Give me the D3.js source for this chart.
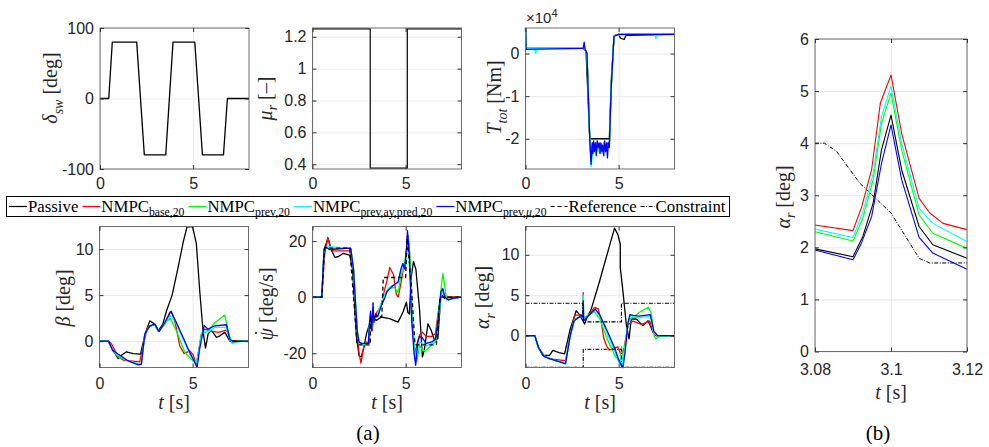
<!DOCTYPE html>
<html><head><meta charset="utf-8">
<script src="https://cdn.jsdelivr.net/npm/d3@7"></script>
<style>
body{margin:0;background:#fff;}
svg{display:block;}
</style></head><body>
<svg id="c" width="989" height="447"></svg>
<script>
// ---------------- DATA (t [s], value) ----------------
const steerDeg = [[0,0],[0.47,0],[0.66,80],[1.97,80],[2.38,-80],[3.53,-80],[3.92,80],[5.09,80],[5.5,-80],[6.63,-80],[6.84,0],[8,0]];
const muRoad = [[0,1.25],[3.1,1.25],[3.1,0.375],[5.09,0.375],[5.09,1.25],[8,1.25]];

// T_tot in units of 1e4 Nm
const torquePassive = [[0,0.6],[0.03,0.12],[3.15,0.12],[3.25,0.05],[3.45,-2.0],[4.5,-2.0],[4.62,-0.5],[4.76,0.42],[5.0,0.45],[5.1,0.36],[5.3,0.33],[5.4,0.43],[8,0.45]];
const torqueBase = [[0,0.6],[0.03,0.12],[3.1,0.12],[3.2,0.08],[3.3,0.0],[3.45,-2.0],[3.52,-2.5],[3.6,-2.1],[3.7,-2.25],[3.8,-2.1],[3.9,-2.2],[4.0,-2.1],[4.1,-2.25],[4.2,-2.1],[4.3,-2.2],[4.4,-2.1],[4.5,-2.2],[4.6,-0.8],[4.75,0.42],[5.0,0.45],[8,0.45]];
const torquePrev = [[0,0.6],[0.03,0.12],[3.1,0.12],[3.2,0.1],[3.3,0.0],[3.45,-2.0],[3.53,-2.6],[3.6,-2.15],[3.7,-2.3],[3.8,-2.1],[3.9,-2.25],[4.0,-2.15],[4.1,-2.3],[4.2,-2.1],[4.3,-2.25],[4.4,-2.15],[4.5,-2.2],[4.6,-0.8],[4.75,0.42],[5.0,0.45],[8,0.45]];
const torqueAy = [[0,0.6],[0.03,0.12],[0.5,0.12],[0.55,0.0],[0.6,0.12],[3.1,0.12],[3.15,0.2],[3.2,0.1],[3.3,0.0],[3.45,-2.0],[3.53,-2.65],[3.6,-2.2],[3.7,-2.3],[3.8,-2.1],[3.9,-2.3],[4.0,-2.2],[4.1,-2.35],[4.2,-2.15],[4.3,-2.3],[4.4,-2.2],[4.5,-2.2],[4.6,-0.8],[4.75,0.42],[5.5,0.45],[6.95,0.45],[7.0,0.35],[7.05,0.45],[8,0.45]];
const torqueMu = [[0,0.6],[0.03,0.1],[3.1,0.12],[3.15,0.27],[3.2,0.1],[3.3,0.0],[3.45,-2.0],[3.52,-2.6],[3.58,-2.1],[3.62,-2.35],[3.66,-2.05],[3.7,-2.3],[3.75,-2.1],[3.8,-2.4],[3.85,-2.05],[3.9,-2.2],[3.95,-2.1],[4.0,-2.35],[4.05,-2.1],[4.1,-2.3],[4.15,-2.15],[4.2,-2.4],[4.25,-2.05],[4.3,-2.3],[4.35,-2.1],[4.4,-2.45],[4.45,-2.1],[4.5,-2.2],[4.6,-0.8],[4.75,0.4],[5.0,0.45],[8,0.45]];

const betaPassive = [[0,0],[0.46,0],[0.7,-0.9],[1.0,-1.9],[1.2,-1.5],[1.45,-1.15],[1.8,-1.35],[2.2,-1.4],[2.45,0.8],[2.7,2.2],[2.97,1.85],[3.15,1.1],[3.4,1.85],[3.6,3.3],[3.9,5.0],[4.22,8.0],[4.5,10.8],[4.7,12.4],[5.0,12.4],[5.2,10.6],[5.38,5.5],[5.56,1.1],[5.69,-0.76],[5.83,0.76],[6.0,1.2],[6.28,0.4],[6.46,0.58],[6.73,0.95],[7.0,0],[7.26,0.05],[8,0]];
const betaBase = [[0,0],[0.5,0],[0.65,-0.3],[1.0,-1.7],[1.27,-2.05],[2.16,-2.25],[2.4,0],[2.58,1.5],[2.97,1.85],[3.18,1.05],[3.5,1.85],[3.77,3.1],[3.86,3.25],[4.08,1.85],[4.31,-0.5],[4.54,-1.35],[4.85,-1.05],[5.03,-1.5],[5.2,-2.5],[5.47,0.76],[5.65,1.3],[6.0,1.1],[6.37,0.95],[6.82,1.2],[7.05,0],[8,0]];
const betaPrev = [[0,0],[0.5,0],[0.7,-1.0],[1.0,-1.7],[1.5,-2.1],[2.1,-2.5],[2.25,-2.45],[2.43,0.7],[2.7,1.6],[2.97,1.8],[3.2,1.05],[3.5,1.9],[3.8,2.5],[4.13,1.1],[4.58,-1.24],[5.03,-2.15],[5.24,-2.3],[5.47,0.76],[5.83,1.1],[6.19,2.0],[6.73,2.85],[6.94,0.8],[7.12,-0.25],[7.4,0],[8,0]];
const betaAy = [[0,0],[0.5,0],[0.7,-1.0],[1.0,-1.5],[1.5,-2.1],[2.08,-2.5],[2.25,-2.45],[2.43,0.75],[2.7,1.65],[2.97,1.85],[3.2,1.05],[3.5,1.95],[3.8,2.8],[4.04,2.3],[4.49,0.2],[4.85,-1.4],[5.15,-2.4],[5.3,-1.5],[5.5,0.9],[5.62,1.15],[5.83,1.0],[6.19,1.5],[6.8,1.5],[7.0,0.1],[7.17,-0.1],[8,0]];
const betaMu = [[0,0],[0.5,0],[0.7,-1.0],[1.0,-1.4],[1.54,-2.15],[2.08,-2.58],[2.25,-2.5],[2.43,0.76],[2.7,1.67],[2.97,1.85],[3.2,1.05],[3.5,2.0],[3.83,3.24],[4.04,2.4],[4.49,0.4],[4.85,-1.24],[5.12,-2.33],[5.24,-2.87],[5.38,-0.8],[5.62,1.7],[5.83,1.3],[6.19,1.67],[6.82,1.78],[7.0,0.2],[7.17,-0.05],[8,0]];

const yawPassive = [[0,0],[0.5,0],[0.62,17],[0.84,21],[1.0,17],[1.2,14.2],[1.4,14.5],[1.64,15.6],[2.0,15],[2.15,10],[2.36,-14.2],[2.5,-21],[2.62,-21.3],[2.75,-18],[2.9,-13],[3.07,-9.5],[3.15,-11],[3.25,-7.5],[3.43,-8.3],[3.7,-7.1],[4.14,-7.7],[4.59,-8.9],[4.7,-7.5],[4.86,-5.3],[5.04,-1.8],[5.12,-5.5],[5.2,-6],[5.3,7.1],[5.42,12.7],[5.55,10],[5.75,-4.7],[5.9,-21.3],[6.0,-19],[6.2,-9.5],[6.37,-11.8],[6.55,-15.4],[6.73,-14.8],[6.9,1.2],[7.1,-0.5],[7.4,0],[8,0]];
const yawBase = [[0,0],[0.5,0],[0.65,15],[0.82,21.3],[0.95,18],[1.1,16.5],[2.0,16.5],[2.2,10],[2.35,-10],[2.5,-20],[2.6,-23.5],[2.75,-18],[2.9,-16],[3.05,-16.5],[3.1,-8],[3.2,-12],[3.3,-7],[3.5,-5],[3.7,-3],[3.85,2],[4.0,6],[4.15,10.6],[4.35,8],[4.5,1],[4.6,0],[4.75,5],[4.9,11],[5.0,12],[5.1,22],[5.2,18],[5.35,-10],[5.5,-20],[5.6,-17],[5.75,-13.5],[5.9,-12.5],[6.1,-14],[6.4,-14],[6.6,-13],[6.8,-3],[6.95,3],[7.1,0.5],[7.4,0],[8,0]];
const yawPrev = [[0,0],[0.5,0],[0.62,17],[0.75,17.5],[2.05,17.5],[2.2,10],[2.4,-12],[2.5,-16],[2.6,-16.5],[3.0,-16.5],[3.05,-10],[3.12,-6],[3.2,-11],[3.3,-7],[3.5,-6],[3.7,-2],[3.9,1],[4.1,3],[4.4,3.5],[4.6,1.5],[4.75,8],[4.9,10],[5.05,17],[5.15,22],[5.25,12],[5.35,-5],[5.5,-21],[5.6,-23],[5.75,-17],[5.9,-19],[6.1,-19],[6.4,-17],[6.6,-16],[6.8,-3],[7.0,8.5],[7.1,4],[7.2,-1],[7.5,-0.5],[8,0]];
const yawAy = [[0,0],[0.5,0],[0.62,17],[0.75,18],[2.05,17.5],[2.2,10],[2.4,-12],[2.5,-16],[2.6,-17],[3.0,-16.5],[3.05,-10],[3.12,-6],[3.2,-11],[3.3,-7],[3.5,-6],[3.7,-2],[3.9,1],[4.1,3.5],[4.4,4.5],[4.6,5],[4.75,10],[4.9,12],[5.0,11],[5.1,20],[5.2,14],[5.35,-8],[5.5,-21],[5.6,-20],[5.75,-16],[5.9,-16.5],[6.1,-17.5],[6.4,-16.5],[6.6,-15.5],[6.8,-6],[6.95,2.5],[7.1,0],[7.3,-1],[8,0]];
const yawMu = [[0,0],[0.5,0],[0.62,17],[0.7,18],[0.9,17],[2.05,17.5],[2.2,10],[2.4,-12],[2.5,-16],[2.6,-16.5],[3.0,-16.5],[3.05,-10],[3.12,-5],[3.18,-12],[3.25,-2],[3.3,-9],[3.4,-6],[3.5,-7],[3.7,-3],[3.9,0],[4.0,2],[4.3,4],[4.6,5.5],[4.75,10],[4.85,12],[4.95,10],[5.05,18],[5.1,23.7],[5.2,15],[5.3,-5],[5.45,-20],[5.54,-24.3],[5.65,-16],[5.75,-14],[5.9,-14.5],[6.1,-16.5],[6.4,-16],[6.6,-15],[6.75,-8],[6.9,2],[7.0,3],[7.1,0],[7.3,-1],[7.6,-0.3],[8,0]];
const yawRef = [[0,0],[0.5,0],[0.65,17.5],[2.0,17.5],[2.4,-17],[3.1,-17],[3.12,-7],[3.72,-7],[3.8,7],[5.0,7],[5.08,21],[5.3,5],[5.5,-17],[6.65,-17],[6.85,0],[8,0]];

const slipPassive = [[0,0],[0.5,0],[0.7,-1.5],[0.93,-2.46],[1.29,-2.46],[1.47,-1.84],[1.8,-2.1],[2.1,-2.25],[2.4,0.8],[2.72,3.07],[2.9,2.6],[3.08,1.84],[3.17,1.43],[3.3,2.2],[3.53,3.28],[3.98,6.76],[4.43,10.45],[4.78,13.3],[4.96,12.5],[5.09,11.3],[5.09,8.4],[5.23,5.5],[5.41,1.43],[5.56,-0.4],[5.68,2.05],[5.95,2.05],[6.3,1.23],[6.58,1.84],[6.85,0.4],[7.0,0],[8,0]];
const slipBase = [[0,0],[0.5,0],[0.7,-1.5],[1.0,-2.5],[1.3,-2.9],[2.15,-3.1],[2.4,0],[2.65,2.5],[3.0,2.6],[3.08,2.4],[3.1,5.3],[3.12,2.3],[3.2,2.0],[3.5,2.8],[3.7,3.5],[3.9,3.3],[4.05,2.0],[4.2,-0.3],[4.34,-1.2],[4.5,-1.8],[4.7,-1.6],[4.96,-1.4],[5.14,-2.5],[5.3,-1.5],[5.5,1.3],[5.77,1.8],[6.22,1.4],[6.67,1.8],[6.85,0.4],[7.02,0],[8,0]];
const slipPrev = [[0,0],[0.5,0],[0.7,-1.5],[1.0,-2.5],[1.5,-3.0],[2.15,-3.4],[2.4,0],[2.65,2.0],[3.0,2.5],[3.08,2.3],[3.1,4.9],[3.12,2.2],[3.3,2.4],[3.7,3.0],[4.0,2.0],[4.4,-0.5],[4.8,-2.5],[5.0,-3.0],[5.1,-3.3],[5.16,-1.35],[5.17,-2.4],[5.22,-3.5],[5.35,-1],[5.55,2.0],[5.8,2.3],[6.2,3.0],[6.6,3.5],[6.75,2.8],[6.9,0],[7.0,-0.4],[7.2,-0.1],[8,0]];
const slipAy = [[0,0],[0.5,0],[0.7,-1.5],[1.0,-2.6],[1.5,-3.0],[2.15,-3.4],[2.4,0],[2.6,1.9],[3.0,2.5],[3.08,2.3],[3.1,5.0],[3.12,2.0],[3.3,2.3],[3.75,3.2],[4.0,2.4],[4.4,0.2],[4.8,-2.0],[5.0,-3.2],[5.1,-3.6],[5.15,-2.2],[5.2,-3.7],[5.35,-1.5],[5.5,1.5],[5.65,2.6],[5.8,2.3],[6.1,2.2],[6.7,2.4],[6.9,0.3],[7.1,0],[8,0]];
const slipMu = [[0,0],[0.5,0],[0.7,-1.5],[1.0,-2.6],[1.5,-3.0],[2.15,-3.5],[2.4,0],[2.6,1.8],[3.0,2.5],[3.08,2.3],[3.1,4.3],[3.12,1.8],[3.3,2.3],[3.75,3.3],[4.0,2.5],[4.4,0.5],[4.8,-1.6],[5.0,-3.0],[5.15,-3.7],[5.23,-4.0],[5.35,-2.0],[5.5,1.5],[5.6,2.6],[5.8,2.5],[6.1,2.4],[6.7,2.6],[6.9,0.5],[7.1,0],[8,0]];
const slipUpper = [[0,4],[3.08,4],[3.085,3.9],[3.107,1.78],[3.11,1.7],[5.15,1.7],[5.15,4],[8,4]];
const slipLower = [[0,-3.93],[3.1,-3.93],[3.1,-1.7],[5.15,-1.7],[5.15,-3.93],[8,-3.93]];

// zoom (b): t in [3.08, 3.12]
const zPassive = [[3.08,1.97],[3.09,1.82],[3.0926,2.21],[3.0953,2.85],[3.0975,3.87],[3.1,4.54],[3.1028,3.49],[3.1074,2.4],[3.111,2.05],[3.12,1.79]];
const zBase = [[3.08,2.43],[3.09,2.32],[3.0923,2.78],[3.0949,3.49],[3.0972,4.77],[3.1,5.31],[3.1028,4.19],[3.1074,2.94],[3.1102,2.66],[3.1137,2.46],[3.12,2.34]];
const zPrev = [[3.08,2.3],[3.09,2.12],[3.0926,2.56],[3.0953,3.3],[3.0975,4.38],[3.1,4.96],[3.1028,3.87],[3.1074,2.62],[3.111,2.27],[3.12,1.98]];
const zAy = [[3.08,2.35],[3.09,2.19],[3.0925,2.66],[3.0953,3.42],[3.0975,4.51],[3.1,5.1],[3.1028,4.0],[3.1074,2.75],[3.111,2.46],[3.12,2.11]];
const zMu = [[3.08,1.95],[3.09,1.76],[3.0922,2.08],[3.0949,2.59],[3.0975,3.61],[3.1,4.35],[3.1028,3.3],[3.1074,2.19],[3.111,1.89],[3.12,1.58]];
const zConstraint = [[3.08,4.0],[3.0825,4.0],[3.0857,3.84],[3.0918,3.23],[3.1,2.66],[3.1074,1.79],[3.1102,1.7],[3.12,1.7]];

const timeTicks = [0,5];
const zoomTimeTicks = [3.08,3.1,3.12];
const legendNames = ["Passive","NMPC|base,20","NMPC|prev,20","NMPC|prev,ay,pred,20","NMPC|prev,~μ~,20","Reference","Constraint"];

// ---------------- STYLE ----------------
const C = {p:'#000000', b:'#ff0000', g:'#00ff00', a:'#00ffff', m:'#0000ff'};
const DASH_REF = '4,3', DASH_CON = '4,1.5,1,1.5';
const SANS = '"Liberation Sans", Arial, Helvetica, sans-serif';
const SERIF = '"Liberation Serif", "Times New Roman", serif';
const svg = d3.select('#c');

function richText(sel, segs, size){
  let shifted = 0;
  segs.forEach(([t, m]) => {
    if (m === 'dot') {
      // overdot placed above previous glyph
      sel.append('tspan').text('\u02D9').attr('dx', -size*0.40).attr('dy', -size*0.18 - shifted);
      shifted = -size*0.18;
      return;
    }
    const ts = sel.append('tspan').text(t);
    const isSub = m === 'sub' || m === 'subi';
    const target = isSub ? size*0.28 : 0;
    if (target !== shifted) { ts.attr('dy', target - shifted); shifted = target; }
    if (isSub) ts.attr('font-size', size*0.7);
    if (m === 'i' || m === 'subi') ts.attr('font-style', 'italic');
    if (m === 'afterdot') ts.attr('dx', size*0.08);
  });
}

let clipN = 0;
function panel(o){
  const x = d3.scaleLinear().domain(o.xd).range([o.l, o.r]);
  const y = d3.scaleLinear().domain(o.yd).range([o.b, o.t]);
  const W = o.r - o.l, H = o.b - o.t;
  const g = svg.append('g');
  g.append('g').attr('transform', `translate(0,${o.b})`)
    .call(d3.axisBottom(x).tickValues(o.xt).tickSize(-H).tickFormat(''))
    .call(s => { s.select('.domain').remove(); s.selectAll('line').attr('stroke', '#e9e9e9'); });
  g.append('g').attr('transform', `translate(${o.l},0)`)
    .call(d3.axisLeft(y).tickValues(o.yt).tickSize(-W).tickFormat(''))
    .call(s => { s.select('.domain').remove(); s.selectAll('line').attr('stroke', '#e9e9e9'); });
  const id = 'clip' + (clipN++);
  svg.append('clipPath').attr('id', id).append('rect')
    .attr('x', o.l - 1).attr('y', o.t - 1).attr('width', W + 2).attr('height', H + 2);
  const lg = g.append('g').attr('clip-path', `url(#${id})`);
  const ln = d3.line().x(d => x(d[0])).y(d => y(d[1]));
  o.series.forEach(s => {
    lg.append('path').attr('d', ln(s.d)).attr('fill', 'none').attr('stroke', s.c)
      .attr('stroke-width', s.w || 1.3).attr('stroke-dasharray', s.dash || null)
      .attr('stroke-linejoin', 'round');
  });
  g.append('rect').attr('x', o.l).attr('y', o.t).attr('width', W).attr('height', H)
    .attr('fill', 'none').attr('stroke', '#6e6e6e').attr('stroke-width', 1);
  const styleAx = s => {
    s.select('.domain').remove();
    s.selectAll('line').attr('stroke', '#333');
    s.selectAll('text').attr('font-family', SANS).attr('font-size', 16).attr('fill', '#262626');
  };
  const fmt = d => String(d);
  g.append('g').attr('transform', `translate(0,${o.b})`)
    .call(d3.axisBottom(x).tickValues(o.xt).tickSize(-4).tickPadding(o.xpad || 9).tickFormat(fmt)).call(styleAx);
  g.append('g').attr('transform', `translate(0,${o.t})`)
    .call(d3.axisTop(x).tickValues(o.xt).tickSize(-4).tickFormat('')).call(styleAx);
  g.append('g').attr('transform', `translate(${o.l},0)`)
    .call(d3.axisLeft(y).tickValues(o.yt).tickSize(-4).tickPadding(6).tickFormat(o.yf || fmt)).call(styleAx);
  g.append('g').attr('transform', `translate(${o.r},0)`)
    .call(d3.axisRight(y).tickValues(o.yt).tickSize(-4).tickFormat('')).call(styleAx);
  const yl = g.append('text').attr('font-family', SERIF).attr('font-size', 20).attr('fill', '#262626')
    .attr('text-anchor', 'middle').attr('transform', `translate(${o.ylx},${o.ylc}) rotate(-90)`);
  richText(yl, o.ylab, 20);
  if (o.xlab) {
    const xl = g.append('text').attr('font-family', SERIF).attr('font-size', 20).attr('fill', '#262626')
      .attr('text-anchor', 'middle').attr('x', (o.l + o.r) / 2).attr('y', o.xly);
    richText(xl, [['t', 'i'], [' [s]', '']], 20);
  }
  return {x, y, g};
}

const S = (d, c, extra) => Object.assign({d, c}, extra || {});

panel({l:100, r:249, t:28, b:169, xd:[0,8], yd:[-100,100], xt:timeTicks, yt:[-100,0,100],
  series:[S(steerDeg, C.p, {w:1.3})], ylx:57, ylc:88, ylab:[['δ','i'],['sw','subi'],[' [deg]','']]});
panel({l:312.5, r:461.5, t:28, b:169, xd:[0,8], yd:[0.37,1.255], xt:timeTicks, yt:[0.4,0.6,0.8,1,1.2],
  series:[S(muRoad, C.p, {w:1.2})], ylx:271.5, ylc:98.5, ylab:[['μ','i'],['r','subi'],[' [–]','']]});
const pT = panel({l:525.5, r:674.5, t:28, b:169, xd:[0,8], yd:[-2.71,0.6], xt:timeTicks, yt:[-2,-1,0],
  series:[S(torquePassive, C.p), S(torqueBase, C.b), S(torquePrev, C.g), S(torqueAy, C.a), S(torqueMu, C.m)],
  ylx:501, ylc:97.5, ylab:[['T','i'],['tot','subi'],[' [Nm]','']]});
const ex = pT.g.append('text').attr('font-family', SANS).attr('font-size', 15).attr('fill', '#262626')
  .attr('x', 526).attr('y', 23);
ex.append('tspan').text('×10');
ex.append('tspan').text('4').attr('font-size', 11).attr('dy', -6);

panel({l:99.5, r:248.5, t:226.5, b:367.5, xd:[0,8], yd:[-2.86,12.45], xt:timeTicks, yt:[0,5,10],
  series:[S(betaPassive, C.p), S(betaBase, C.b), S(betaPrev, C.g), S(betaAy, C.a), S(betaMu, C.m)],
  ylx:70, ylc:298, ylab:[['β','i'],[' [deg]','']], xlab:true, xly:409, xpad:10});
panel({l:312.5, r:461.5, t:226.5, b:367.5, xd:[0,8], yd:[-25.1,25.2], xt:timeTicks, yt:[-20,0,20],
  series:[S(yawPassive, C.p), S(yawBase, C.b), S(yawPrev, C.g), S(yawAy, C.a), S(yawMu, C.m), S(yawRef, '#000', {w:1.3, dash:DASH_REF})],
  ylx:273, ylc:304, ylab:[['ψ','i'],['','dot'],[' [deg/s]','afterdot']], xlab:true, xly:409, xpad:10});
panel({l:525.5, r:674.5, t:226.5, b:367.5, xd:[0,8], yd:[-3.95,13.5], xt:timeTicks, yt:[0,5,10],
  series:[S(slipPassive, C.p), S(slipBase, C.b), S(slipPrev, C.g), S(slipAy, C.a), S(slipMu, C.m),
          S(slipUpper, '#000', {w:1.1, dash:DASH_CON}), S(slipLower, '#000', {w:1.1, dash:DASH_CON})],
  ylx:489, ylc:297.5, ylab:[['α','i'],['r','subi'],[' [deg]','']], xlab:true, xly:409, xpad:10});
panel({l:815, r:967, t:39, b:351.5, xd:[3.08,3.12], yd:[0,6], xt:zoomTimeTicks, yt:[0,1,2,3,4,5,6],
  series:[S(zConstraint, '#000', {w:1.0, dash:DASH_CON}), S(zPassive, C.p, {w:1.1}), S(zBase, C.b, {w:1.1}), S(zPrev, C.g, {w:1.1}), S(zAy, C.a, {w:1.1}), S(zMu, C.m, {w:1.1})],
  ylx:789.5, ylc:197, ylab:[['α','i'],['r','subi'],[' [deg]','']], xlab:true, xly:399, xpad:12});

svg.append('text').attr('font-family', SERIF).attr('font-size', 21).attr('text-anchor', 'middle')
  .attr('x', 368).attr('y', 440).text('(a)');
svg.append('text').attr('font-family', SERIF).attr('font-size', 21).attr('text-anchor', 'middle')
  .attr('x', 878).attr('y', 440).text('(b)');

// ---------------- LEGEND ----------------
const legColors = [C.p, C.b, C.g, C.a, C.m, '#000', '#000'];
const legDash = [null, null, null, null, null, DASH_REF, DASH_CON];
const leg = svg.append('g');
const box = leg.append('rect').attr('x', 6.5).attr('y', 196.5).attr('height', 20)
  .attr('fill', '#fff').attr('stroke', '#000').attr('stroke-width', 1);
const FS = 16.8;
let cx = 9;
legendNames.forEach((name, i) => {
  const len = i === 6 ? 14 : (i === 5 ? 17 : 18);
  leg.append('line').attr('x1', cx).attr('x2', cx + len).attr('y1', 206.5).attr('y2', 206.5)
    .attr('stroke', legColors[i]).attr('stroke-width', 1.2).attr('stroke-dasharray', legDash[i]);
  cx += len + 1;
  const parts = name.split('|');
  const segs = [[parts[0], '']];
  if (parts[1]) {
    parts[1].split('~').forEach((p, k) => { if (p) segs.push([p, k % 2 ? 'subi' : 'sub']); });
  }
  const t = leg.append('text').attr('font-family', SERIF).attr('font-size', FS).attr('fill', '#000')
    .attr('x', cx).attr('y', 211.5);
  richText(t, segs, FS);
  cx += t.node().getComputedTextLength() + 4;
});
box.attr('width', cx - 6.5);
</script>
</body></html>
